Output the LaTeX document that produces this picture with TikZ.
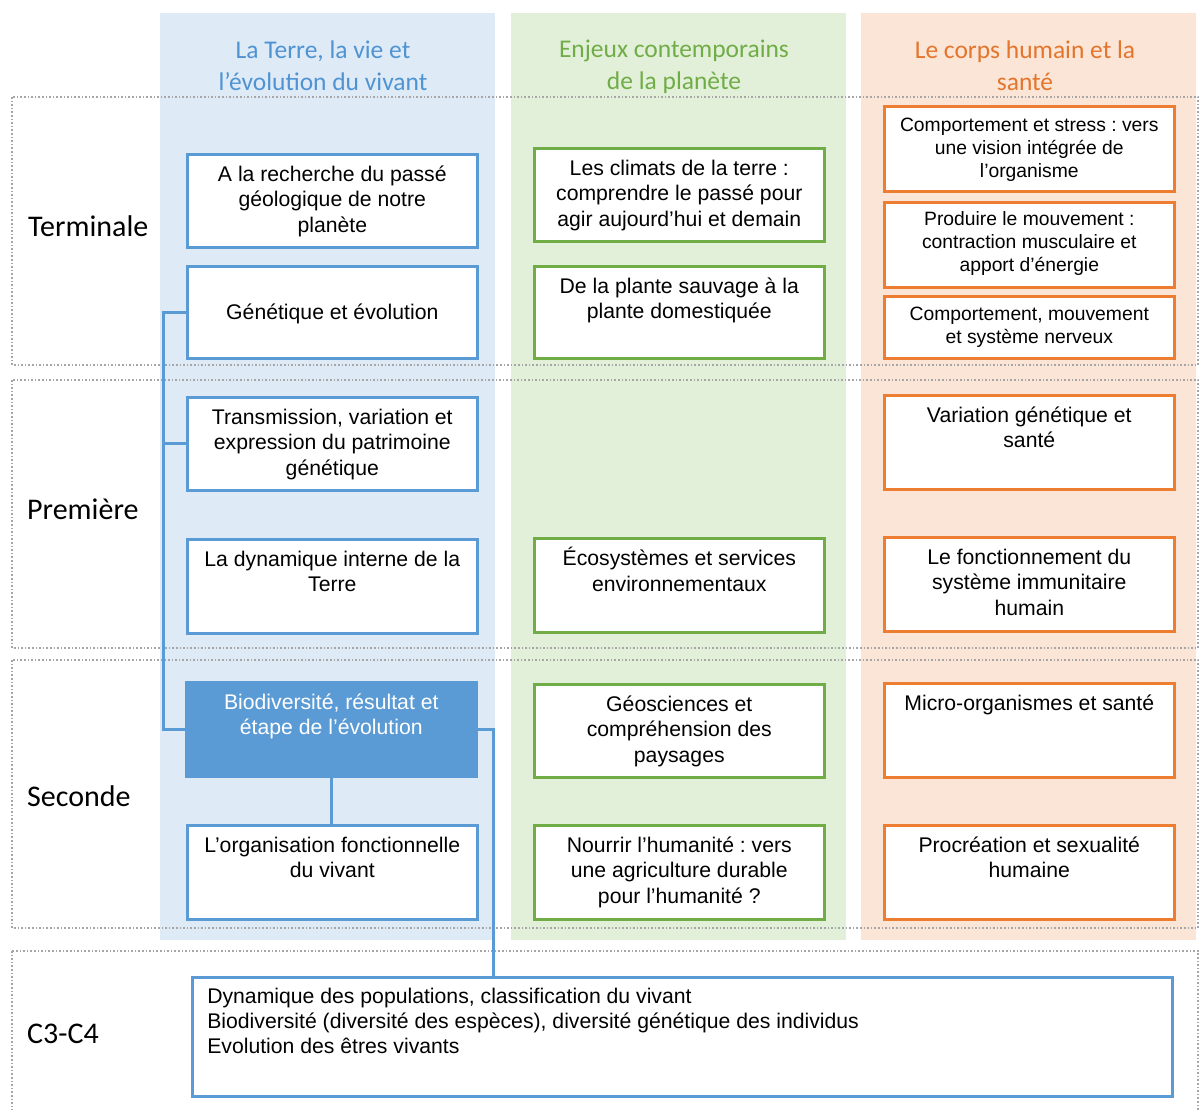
\documentclass[tikz,border=0pt]{standalone}
\usepackage{fontspec}
\setmainfont{Liberation Sans}
\newfontfamily\calib{Carlito}
\frenchspacing
\definecolor{blueline}{HTML}{5B9BD5}
\definecolor{bluebg}{HTML}{DEEBF7}
\definecolor{bluetxt}{HTML}{4F93D2}
\definecolor{greenline}{HTML}{70AD47}
\definecolor{greenbg}{HTML}{E2F0D9}
\definecolor{orangeline}{HTML}{ED7D31}
\definecolor{orangebg}{HTML}{FBE5D6}
\definecolor{orangetxt}{HTML}{E4752D}
\definecolor{framegray}{HTML}{A6A6A6}
% text block pinned to the top of a box: [gap]{height}{lines}
\newcommand{\tb}[3][9]{\parbox[c][#2pt][t]{270pt}{\centering\vspace*{#1pt}\strut#3}}

\begin{document}
\begin{tikzpicture}[
    x=1pt, y=-1pt,
    row/.style={draw=framegray, dotted, line width=1.6pt},
    header/.style={font=\calib\fontsize{25.5}{32}\selectfont, align=center},
    level/.style={font=\calib\fontsize{30}{36}\selectfont, anchor=west, inner sep=0pt},
    topic/.style={anchor=north west, inner xsep=10pt, inner ysep=0pt, line width=2.6pt,
      fill=white, font=\fontsize{21.2}{25.5}\selectfont},
    life/.style={topic, draw=blueline},
    earth/.style={topic, draw=greenline},
    body/.style={topic, draw=orangeline},
    small/.style={font=\fontsize{19.3}{23}\selectfont},
    link/.style={draw=blueline, line width=3pt},
  ]
  \useasboundingbox (0,0) rectangle (1200,1110);

  % columns
  \fill[bluebg] (160,13) rectangle (495,940);
  \fill[greenbg] (511,13) rectangle (846,940);
  \fill[orangebg] (861,13) rectangle (1196,940);

  % school years
  \draw[row] (12,97) rectangle (1198,365);
  \draw[row] (12,380) rectangle (1198,648);
  \draw[row] (12,660) rectangle (1198,928);
  \draw[row] (12,951) rectangle (1198,1125);

  \node[header, text=bluetxt] (hlife) at (323,66) {La Terre, la vie et\\l’évolution du vivant};
  \node[header, text=greenline] (hearth) at (674,67) {Enjeux contemporains\\de la planète};
  \node[header, text=orangetxt] (hbody) at (1025,66) {Le corps humain et la\\santé};

  \node[level] (term) at (28,226) {Terminale};
  \node[level] (prem) at (27,509) {Première};
  \node[level] (sec) at (27,796) {Seconde};
  \node[level] (cycle) at (27,1034) {C3-C4};

  % la Terre, la vie
  \node[life] (rech) at (186,153) {\tb{93}{A la recherche du passé\\géologique de notre\\planète}};
  \node[life] (gen) at (186,265) {\tb[35]{92}{Génétique et évolution}};
  \node[life] (trans) at (186,396) {\tb{93}{Transmission, variation et\\expression du patrimoine\\génétique}};
  \node[life] (dyn) at (186,538) {\tb{94}{La dynamique interne de la\\Terre}};
  \node[life, fill=blueline, text=white] (biodiv) at (185,681) {\tb{94}{Biodiversité, résultat et\\étape de l’évolution}};
  \node[life] (org) at (186,824) {\tb{94}{L’organisation fonctionnelle\\du vivant}};

  % enjeux contemporains
  \node[earth] (clim) at (533,147) {\tb{93}{Les climats de la terre :\\comprendre le passé pour\\agir aujourd’hui et demain}};
  \node[earth] (plante) at (533,265) {\tb{92}{De la plante sauvage à la\\plante domestiquée}};
  \node[earth] (eco) at (533,537) {\tb{94}{Écosystèmes et services\\environnementaux}};
  \node[earth] (geo) at (533,683) {\tb{93}{Géosciences et\\compréhension des\\paysages}};
  \node[earth] (nourr) at (533,824) {\tb{94}{Nourrir l’humanité : vers\\une agriculture durable\\pour l’humanité ?}};

  % corps humain
  \node[body, small] (stress) at (883,105) {\tb[9]{85}{Comportement et stress : vers\\une vision intégrée de\\l’organisme}};
  \node[body, small] (mouv) at (883,201) {\tb[7]{85}{Produire le mouvement :\\contraction musculaire et\\apport d’énergie}};
  \node[body, small] (nerv) at (883,295) {\tb[8]{62}{Comportement, mouvement\\et système nerveux}};
  \node[body] (varg) at (883,394) {\tb{94}{Variation génétique et\\santé}};
  \node[body] (immu) at (883,536) {\tb{94}{Le fonctionnement du\\système immunitaire\\humain}};
  \node[body] (micro) at (883,682) {\tb{94}{Micro-organismes et santé}};
  \node[body] (procr) at (883,824) {\tb{94}{Procréation et sexualité\\humaine}};

  \node[life, inner xsep=15pt, font=\fontsize{21.2}{25}\selectfont] (c3c4) at (191,976)
    {\parbox[c][119pt][t]{950pt}{\raggedright\vspace*{9pt}\strut Dynamique des populations, classification du vivant\\Biodiversité (diversité des espèces), diversité génétique des individus\\Evolution des êtres vivants}};

  % links
  \coordinate (spine) at (163,0);
  \coordinate (drop) at (493,0);
  \draw[link] (gen.west) -- (gen.west -| spine) |- (biodiv.west);
  \draw[link] (trans.west) -- (trans.west -| spine);
  \draw[link] (biodiv.south) -- (biodiv.south |- org.north);
  \draw[link] (biodiv.east) -| (drop |- c3c4.north);
\end{tikzpicture}
\end{document}
